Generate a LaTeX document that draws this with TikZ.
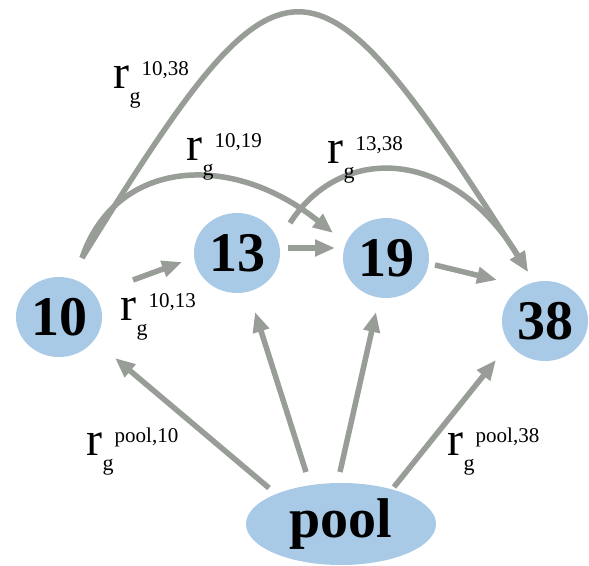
\documentclass[tikz,border=0pt]{standalone}
\usepackage{fontspec}
\setmainfont{Liberation Serif}
\usetikzlibrary{arrows.meta,shapes.geometric}
\definecolor{nodeblue}{RGB}{168,202,230}
\definecolor{edgegray}{RGB}{152,157,152}
\newcommand{\rglabel}[1]{{\fontsize{48}{48}\selectfont r}\kern0.5pt\raisebox{-15pt}{\fontsize{22}{22}\selectfont g}\kern 1pt\raisebox{13pt}{\fontsize{21}{21}\selectfont #1}}
\begin{document}
\begin{tikzpicture}[x=1pt,y=-1pt,
  state/.style={ellipse,fill=nodeblue,minimum width=86pt,minimum height=80pt,inner sep=0pt,
    font=\fontsize{56}{56}\selectfont\bfseries},
  poolnode/.style={ellipse,fill=nodeblue,minimum width=190pt,minimum height=82pt,inner sep=0pt,
    font=\fontsize{56}{56}\selectfont\bfseries},
  arr/.style={draw=edgegray,line width=5.5pt,-{Triangle[length=20pt,width=16pt]}},
  lbl/.style={anchor=base west,inner sep=0pt}]
\useasboundingbox (0,0) rectangle (589,565);
\fill[white] (0,0) rectangle (589,565);
% nodes
\node[state] (n10) at (59,317) {10};
\node[state] (n13) at (237,253) {13};
\node[state] (n19) at (386,258) {19};
\node[state] (n38) at (545,321) {38};
\node[poolnode] (pool) at (341,524) {pool};
% straight arrows
\draw[arr] ([shift={(74,-37)}]n10.center) -- ([shift={(-55,9)}]n13.center);
\draw[arr] ([shift={(51,-5)}]n13.center) -- ([shift={(-51,-10)}]n19.center);
\draw[arr] ([shift={(49,7)}]n19.center) -- ([shift={(-48,-41)}]n38.center);
\draw[arr] ([shift={(-72,-36)}]pool.center) -- ([shift={(56,41)}]n10.center);
\draw[arr] ([shift={(-35,-52)}]pool.center) -- ([shift={(18,59)}]n13.center);
\draw[arr] ([shift={(-1,-52)}]pool.center) -- ([shift={(-10,54)}]n19.center);
\draw[arr] ([shift={(53,-37)}]pool.center) -- ([shift={(-49,39)}]n38.center);
% curved arrows
\draw[arr] ([shift={(23,-59)}]n10.center) .. controls (285,-70) and (310,-70) .. ([shift={(-17,-49)}]n38.center);
\draw[arr] ([shift={(23,-59)}]n10.center) .. controls (115,160) and (230,150) .. ([shift={(-53,-25)}]n19.center);
\draw[arr] ([shift={(53,-30)}]n13.center) .. controls (340,145) and (450,145) .. ([shift={(-17,-49)}]n38.center);
% labels
\node[lbl] (l1038) at (113,88) {\rglabel{10,38}};
\node[lbl] (l1019) at (186,160) {\rglabel{10,19}};
\node[lbl] (l1338) at (327,163) {\rglabel{13,38}};
\node[lbl] (l1013) at (120,320) {\rglabel{10,13}};
\node[lbl] (lp10) at (86,455) {\rglabel{pool,10}};
\node[lbl] (lp38) at (447,455) {\rglabel{pool,38}};
\end{tikzpicture}
\end{document}
